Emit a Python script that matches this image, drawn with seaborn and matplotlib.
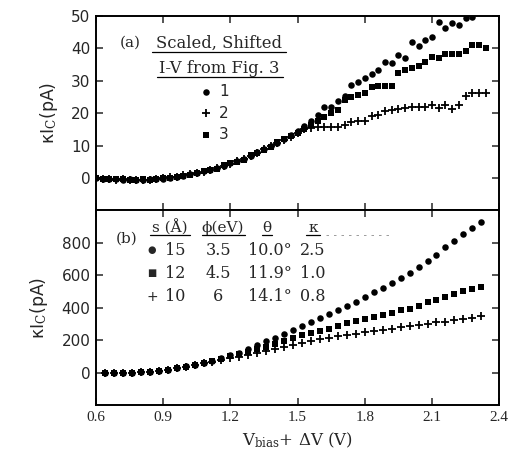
import matplotlib
matplotlib.use('Agg')
import matplotlib.pyplot as plt
import seaborn as sns

# panel (a): scaled, shifted I-V curves
v_a = [0.60, 0.63, 0.66, 0.69, 0.72, 0.75, 0.78, 0.81, 0.84, 0.87,
       0.90, 0.93, 0.96, 0.99, 1.02, 1.05, 1.08, 1.11, 1.14, 1.17,
       1.20, 1.23, 1.26, 1.29, 1.32, 1.35, 1.38, 1.41, 1.44, 1.47,
       1.50, 1.53, 1.56, 1.59, 1.62, 1.65, 1.68, 1.71, 1.74, 1.77,
       1.80, 1.83, 1.86, 1.89, 1.92, 1.95, 1.98, 2.01, 2.04, 2.07,
       2.10, 2.13, 2.16, 2.19, 2.22, 2.25, 2.28, 2.31, 2.34]
a_curve1 = [0.0, -0.2, -0.4, -0.3, -0.5, -0.4, -0.7, -0.6, -0.4, -0.3,
            -0.2, 0.0, 0.3, 0.6, 1.1, 1.7, 2.2, 2.5, 3.1, 3.8,
            4.5, 5.1, 5.9, 6.9, 7.9, 8.8, 9.8, 10.9, 12.0, 13.2,
            14.6, 16.0, 17.6, 19.4, 21.8, 22.0, 23.8, 25.4, 28.7, 29.7,
            30.8, 32.0, 33.3, 35.9, 35.6, 38.0, 37.0, 42.0, 40.7, 42.6,
            43.4, 48.2, 46.2, 47.7, 47.2, 49.3, 49.8]
a_curve2 = [0.1, -0.3, -0.2, -0.5, -0.4, -0.6, -0.5, -0.7, -0.5, -0.2,
            -0.1, 0.2, 0.4, 0.8, 1.2, 1.5, 2.0, 2.6, 3.2, 3.6,
            4.3, 5.2, 6.0, 6.7, 7.6, 8.9, 9.9, 10.8, 11.8, 12.8,
            13.8, 15.0, 15.5, 15.8, 15.6, 15.6, 15.8, 16.5, 17.4, 17.6,
            17.6, 19.1, 19.4, 20.7, 21.0, 21.2, 21.5, 21.8, 22.0, 22.0,
            22.5, 21.5, 22.5, 21.2, 22.5, 25.3, 26.1, 26.1, 26.1]
a_curve3 = [-0.1, -0.4, -0.3, -0.4, -0.3, -0.5, -0.6, -0.4, -0.5, -0.4,
            -0.1, 0.1, 0.3, 0.7, 0.9, 1.4, 2.3, 2.4, 2.9, 3.9,
            4.6, 4.9, 5.7, 7.0, 7.7, 8.6, 9.6, 11.0, 12.1, 12.9,
            14.0, 15.2, 16.3, 17.5, 18.8, 20.0, 21.0, 24.0, 24.9, 25.6,
            26.1, 28.2, 28.4, 28.4, 28.4, 32.3, 33.3, 33.9, 34.6, 35.9,
            37.4, 36.9, 38.2, 38.2, 38.2, 39.2, 41.0, 41.0, 40.0]

# panel (b): model curves
v_b = [0.64, 0.68, 0.72, 0.76, 0.80, 0.84, 0.88, 0.92, 0.96, 1.00,
       1.04, 1.08, 1.12, 1.16, 1.20, 1.24, 1.28, 1.32, 1.36, 1.40,
       1.44, 1.48, 1.52, 1.56, 1.60, 1.64, 1.68, 1.72, 1.76, 1.80,
       1.84, 1.88, 1.92, 1.96, 2.00, 2.04, 2.08, 2.12, 2.16, 2.20,
       2.24, 2.28, 2.32]
b_s15 = [0, 0, 0, 0, 2, 5, 11, 18, 28, 39, 48, 60, 72, 88, 106, 122,
         145, 170, 192, 212, 238, 262, 286, 309, 336, 360, 383, 410,
         436, 465, 495, 524, 553, 584, 617, 650, 686, 728, 772, 809,
         854, 892, 930]
b_s12 = [0, 0, 0, 0, 2, 5, 10, 17, 27, 37, 46, 58, 70, 85, 100, 114,
         128, 143, 158, 175, 192, 210, 230, 244, 256, 268, 285, 303,
         315, 330, 343, 357, 369, 386, 394, 412, 434, 449, 464, 486,
         500, 516, 530]
b_s10 = [0, 0, 0, 0, 1, 4, 9, 16, 26, 36, 45, 56, 66, 77, 88, 98,
         108, 118, 130, 145, 158, 170, 185, 194, 206, 214, 224, 233,
         240, 249, 255, 264, 270, 280, 288, 294, 302, 309, 314, 321,
         329, 338, 348]

table_s = ["15", "12", "10"]
table_phi = ["3.5", "4.5", "6"]
table_theta = ["10.0°", "11.9°", "14.1°"]
table_kappa = ["2.5", "1.0", "0.8"]
table_marks = ["●", "■", "+"]

x_ticks = [0.6, 0.9, 1.2, 1.5, 1.8, 2.1, 2.4]

sns.set_style("ticks")
plt.rcParams['font.family'] = ['DejaVu Sans']
plt.rcParams['mathtext.fontset'] = 'dejavusans'

fig, (ax1, ax2) = plt.subplots(2, 1, sharex=True, figsize=(5.12, 4.55), dpi=100)
fig.subplots_adjust(left=0.1875, right=0.975, top=0.965, bottom=0.11, hspace=0)

serif = 'DejaVu Serif'
tick_serif = 'Liberation Serif'

# --- panel (a)
sns.scatterplot(x=v_a[:len(a_curve1)], y=a_curve1, marker='o', color='k', s=22,
                linewidth=0, label="1", ax=ax1)
sns.scatterplot(x=v_a, y=a_curve2, marker='+', color='k', s=30,
                linewidth=1.3, label="2", ax=ax1)
sns.scatterplot(x=v_a, y=a_curve3, marker='s', color='k', s=17,
                linewidth=0, label="3", ax=ax1)
ax1.set_ylim(-10, 50)
ax1.set_yticks([0, 10, 20, 30, 40, 50])

leg = ax1.legend(loc='upper left', bbox_to_anchor=(0.262, 0.648), frameon=False,
                 handlelength=0.6, handletextpad=0.55, labelspacing=0.4,
                 borderpad=0, borderaxespad=0, prop={'size': 11})

ax1.text(0.084, 0.861, "(a)", transform=ax1.transAxes, ha='center', va='center',
         family=serif, fontsize=11)
ax1.text(0.304, 0.861, "Scaled, Shifted", transform=ax1.transAxes, ha='center',
         va='center', family=serif, fontsize=11.8)
ax1.text(0.306, 0.732, "I-V from Fig. 3", transform=ax1.transAxes, ha='center',
         va='center', family=serif, fontsize=11.8)
ax1.plot([0.139, 0.471], [0.812, 0.812], color='k', lw=0.9, transform=ax1.transAxes)
ax1.plot([0.151, 0.464], [0.684, 0.684], color='k', lw=0.9, transform=ax1.transAxes)

# --- panel (b)
sns.scatterplot(x=v_b, y=b_s15, marker='o', color='k', s=22, linewidth=0, ax=ax2)
sns.scatterplot(x=v_b, y=b_s12, marker='s', color='k', s=17, linewidth=0, ax=ax2)
sns.scatterplot(x=v_b, y=b_s10, marker='+', color='k', s=30, linewidth=1.3, ax=ax2)
ax2.set_ylim(-200, 1000)
ax2.set_yticks([0, 200, 400, 600, 800])
ax2.set_xlim(0.6, 2.4)
ax2.set_xticks(x_ticks)
ax2.set_xticklabels([f"{t:.1f}" for t in x_ticks], family=tick_serif, fontsize=12)

ax2.text(0.077, 0.856, "(b)", transform=ax2.transAxes, ha='center', va='center',
         family=serif, fontsize=11)
headers = ["s (Å)", "ϕ(eV)", "θ", "κ"]
col_x = [0.184, 0.315, 0.424, 0.538]
under = [(0.134, 0.234), (0.263, 0.370), (0.412, 0.437), (0.522, 0.556)]
for h, cx, (u0, u1) in zip(headers, col_x, under):
    ax2.text(cx, 0.912, h, transform=ax2.transAxes, ha='center', va='center',
             family=serif, fontsize=11)
    ax2.plot([u0, u1], [0.872, 0.872], color='k', lw=0.9, transform=ax2.transAxes)
ax2.plot([0.57, 0.73], [0.872, 0.872], color='0.55', lw=0.6, ls=(0, (3, 6)),
         transform=ax2.transAxes)

row_y = [0.795, 0.677, 0.557]
for i, ry in enumerate(row_y):
    ax2.text(0.139, ry, table_marks[i], transform=ax2.transAxes, ha='center',
             va='center', family='DejaVu Sans', fontsize=7 if i < 2 else 10)
    ax2.text(0.196, ry, table_s[i], transform=ax2.transAxes, ha='center',
             va='center', family=serif, fontsize=11.5)
    ax2.text(0.303, ry, table_phi[i], transform=ax2.transAxes, ha='center',
             va='center', family=serif, fontsize=11.5)
    ax2.text(0.432, ry, table_theta[i], transform=ax2.transAxes, ha='center',
             va='center', family=serif, fontsize=11.5)
    ax2.text(0.538, ry, table_kappa[i], transform=ax2.transAxes, ha='center',
             va='center', family=serif, fontsize=11.5)

for ax in (ax1, ax2):
    ax.tick_params(direction='in', top=True, right=True, length=5, width=1.1,
                   labelsize=11, pad=4)
    for sp in ax.spines.values():
        sp.set_linewidth(1.4)
        sp.set_color('k')
    ax.set_ylabel(r"κI$_\mathrm{C}$(pA)", fontsize=12.5, labelpad=8,
                  math_fontfamily='dejavuserif')

ax1.tick_params(labelbottom=False)
ax2.set_xlabel(r"V$_\mathrm{bias}$+ ΔV (V)", family=serif, fontsize=12, labelpad=5,
               math_fontfamily='dejavuserif')

plt.savefig("out.png", dpi=100)
plt.close()
